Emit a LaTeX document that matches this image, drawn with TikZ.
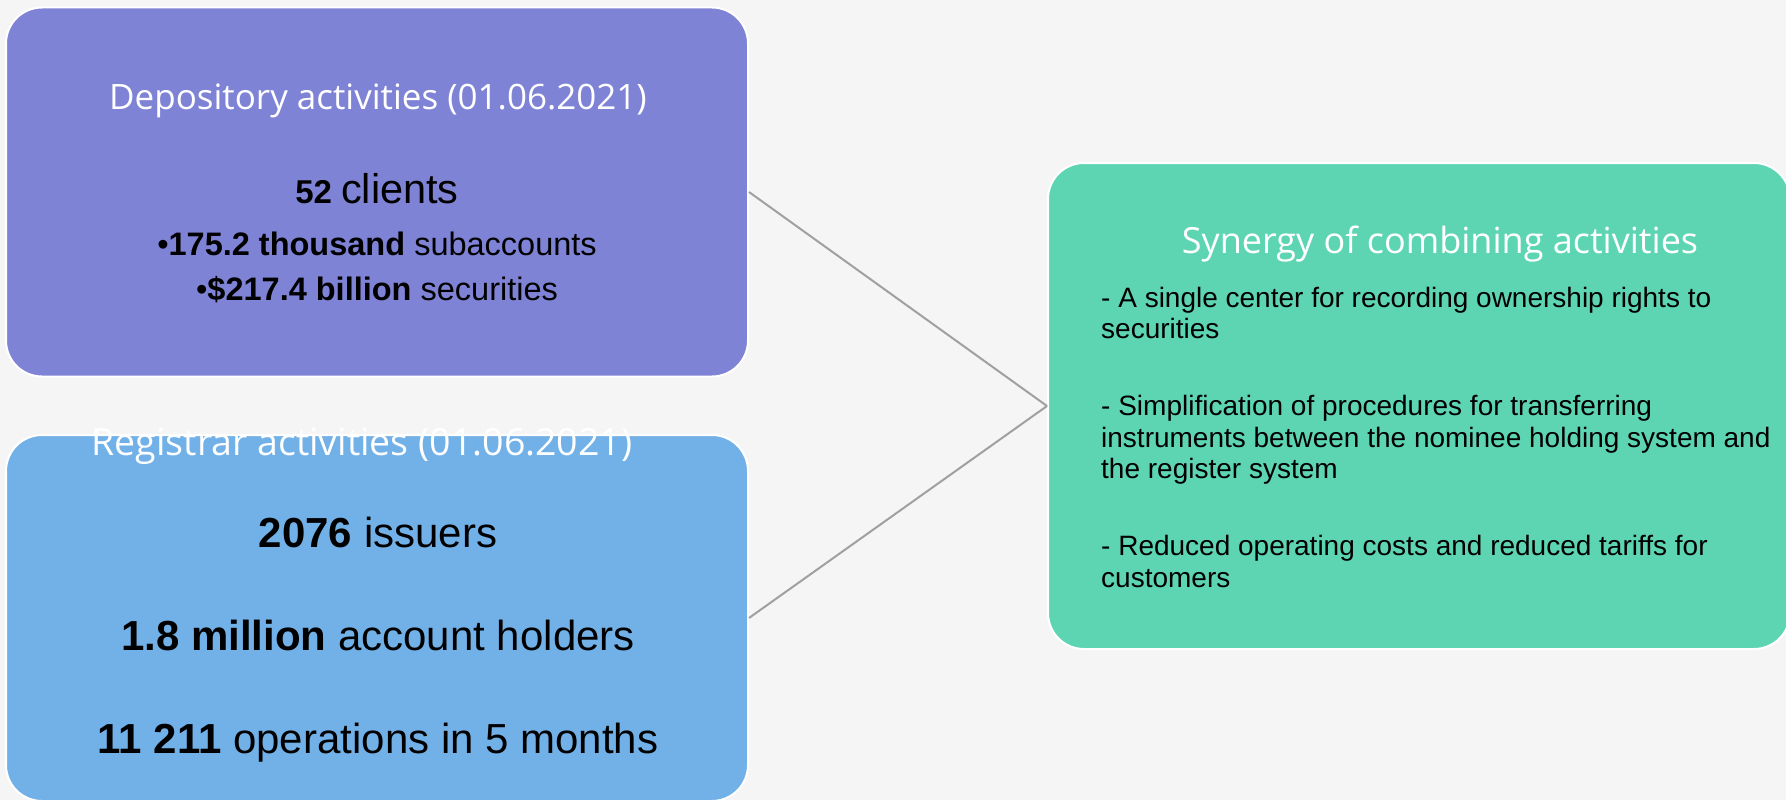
\documentclass[tikz,border=0pt]{standalone}
\usepackage{fontspec}
\setmainfont{Liberation Sans}
\newfontfamily\titlefont{Open Sans}
\definecolor{bg}{HTML}{F5F5F5}
\definecolor{purplebox}{HTML}{7F83D5}
\definecolor{bluebox}{HTML}{72B1E8}
\definecolor{greenbox}{HTML}{5DD5B2}
\definecolor{linkgray}{HTML}{A0A0A0}
\begin{document}
\begin{tikzpicture}[x=1pt,y=-1pt,
  box/.style={draw=white, line width=2pt, rounded corners=36pt, minimum width=742pt, inner sep=0pt},
  ttl/.style={text=white, font=\titlefont\fontsize{35}{42}\selectfont, anchor=base, inner sep=0pt},
  big/.style={font=\fontsize{42}{48}\selectfont, anchor=base, inner sep=0pt},
  mid/.style={font=\fontsize{32.5}{38}\selectfont, anchor=base, inner sep=0pt},
  item/.style={font=\fontsize{28}{32}\selectfont, anchor=base west, inner sep=0pt},
  link/.style={draw=linkgray, line width=2pt}]
\useasboundingbox (0,0) rectangle (1786,800);
\clip (0,0) rectangle (1786,800);
\fill[bg] (0,0) rectangle (1786,800);
% boxes
\node[box, fill=purplebox, minimum height=369pt] (dep) at (377,192) {};
\node[box, fill=bluebox, minimum height=366pt] (reg) at (377,618) {};
\node[box, fill=greenbox, minimum height=486pt] (syn) at (1419,406) {};
% connectors
\draw[link] (dep.east) -- (syn.west);
\draw[link] (reg.east) -- (syn.west);
% depository texts
\node[ttl] (depT) at (378,110) {Depository activities (01.06.2021)};
\node[anchor=base, inner sep=0pt] (dep1) at (377,203) {\fontsize{33}{38}\selectfont\bfseries 52 \fontsize{41.5}{46}\selectfont\mdseries clients};
\node[mid] (dep2) at (377,255) {•\textbf{175.2 thousand} subaccounts};
\node[mid] (dep3) at (377,300) {•\textbf{\$217.4 billion} securities};
% registrar texts
\node[ttl, font=\titlefont\fontsize{37.5}{44}\selectfont] (regT) at (362,455) {Registrar activities (01.06.2021)};
\node[big] (reg1) at (378,547) {\textbf{2076} issuers};
\node[big] (reg2) at (378,650) {\textbf{1.8 million} account holders};
\node[big] (reg3) at (378,753) {\textbf{11 211} operations in 5 months};
% synergy texts
\node[ttl, font=\titlefont\fontsize{36}{42}\selectfont] (synT) at (1440,253) {Synergy of combining activities};
\node[item] (s1a) at (1101,307) {- A single center for recording ownership rights to};
\node[item] (s1b) at (1101,338) {securities};
\node[item] (s2a) at (1101,415) {- Simplification of procedures for transferring};
\node[item] (s2b) at (1101,447) {instruments between the nominee holding system and};
\node[item] (s2c) at (1101,478) {the register system};
\node[item] (s3a) at (1101,555) {- Reduced operating costs and reduced tariffs for};
\node[item] (s3b) at (1101,587) {customers};
\end{tikzpicture}
\end{document}
